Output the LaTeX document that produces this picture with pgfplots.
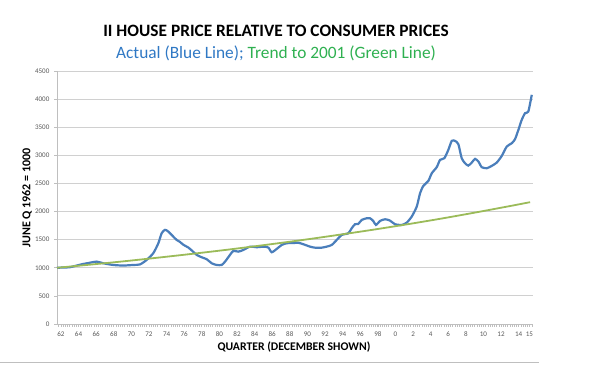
\documentclass[border=0pt]{standalone}
\usepackage{pgfplots}
\pgfplotsset{compat=1.18}
\usepackage{fontspec}
\setmainfont{Carlito}
\definecolor{blueline}{HTML}{4A7EBB}
\definecolor{greenline}{HTML}{9BBB59}
\definecolor{bluetext}{HTML}{2F78C4}
\definecolor{greentext}{HTML}{2EB050}
\definecolor{gridgray}{HTML}{D0D0D0}
\definecolor{axisgray}{HTML}{BFBFBF}
\definecolor{ticktext}{HTML}{595959}
\begin{document}
\begin{tikzpicture}
\useasboundingbox (0,0) rectangle (601*0.75pt,380*0.75pt);
\node[font=\bfseries\fontsize{13}{15}\selectfont] at (276*0.75pt,349*0.75pt) {II HOUSE PRICE RELATIVE TO CONSUMER PRICES};
\node[font=\fontsize{13}{15}\selectfont] at (276*0.75pt,327*0.75pt) {\textcolor{bluetext}{Actual (Blue Line);} \textcolor{greentext}{Trend to 2001 (Green Line)}};
\node[font=\bfseries\fontsize{9}{11}\selectfont, rotate=90] at (27*0.75pt,182*0.75pt) {JUNE Q 1962 = 1000};
\node[font=\bfseries\fontsize{8.8}{10}\selectfont] at (294*0.75pt,33*0.75pt) {QUARTER (DECEMBER SHOWN)};
\draw[axisgray, line width=0.6pt] (0,18*0.75pt) -- (539*0.75pt,18*0.75pt);
\begin{axis}[
  at={(57*0.75pt,56*0.75pt)}, anchor=south west,
  scale only axis, width=356.8pt, height=189.75pt,
  xmin=1962.3, xmax=2016.35, ymin=0, ymax=4500,
  axis x line*=bottom, axis y line*=left,
  axis line style={axisgray, line width=0.6pt},
  ytick={0,500,...,4500},
  ymajorgrids, grid style={gridgray, line width=0.6pt},
  /pgf/number format/assume math mode=true,
  /pgf/number format/set thousands separator={},
  yticklabel style={font=\fontsize{5.3}{6}\selectfont, text=ticktext},
  xticklabel style={font=\fontsize{5.3}{6}\selectfont, text=ticktext},
  tick align=outside,
  major tick length=2.2pt, minor tick length=2.2pt,
  every tick/.style={axisgray, line width=0.5pt},
  xtick={1962.75,1964.75,...,2014.75},
  xticklabels={62,64,66,68,70,72,74,76,78,80,82,84,86,88,90,92,94,96,98,0,2,4,6,8,10,12,14},
  minor xtick={1962.5,1962.75,...,2016.25},
  extra x ticks={2015.97},
  extra x tick labels={15},
  extra x tick style={grid=none},
  clip=false,
]
\addplot[blueline, line width=1.65pt, smooth, tension=0.4] coordinates {
(1962.30,1000) (1963.0,1005) (1963.77,1010) (1965.10,1062) (1966.05,1090)
(1966.81,1110) (1967.56,1080) (1968.69,1050) (1969.83,1040) (1970.97,1050)
(1971.73,1060) (1972.49,1140) (1973.24,1260) (1973.81,1435) (1974.19,1615)
(1974.57,1675) (1974.94,1645) (1975.51,1555) (1975.90,1495) (1976.27,1460)
(1976.65,1410) (1977.22,1360) (1977.67,1300) (1978.18,1228) (1978.74,1187)
(1979.31,1152) (1979.88,1080) (1980.44,1050) (1981.01,1050) (1981.39,1109)
(1981.95,1228) (1982.33,1300) (1982.90,1287) (1983.47,1317) (1984.23,1376)
(1984.99,1365) (1985.74,1376) (1986.31,1360) (1986.69,1276) (1987.26,1335)
(1987.83,1406) (1988.40,1436) (1989.15,1440) (1989.72,1445) (1990.28,1419)
(1991.05,1376) (1991.61,1358) (1992.38,1358) (1992.94,1376) (1993.51,1406)
(1994.08,1495) (1994.65,1584) (1995.40,1614) (1995.78,1703) (1996.16,1775)
(1996.53,1780) (1996.92,1851) (1997.49,1881) (1997.86,1881) (1998.23,1833)
(1998.54,1762) (1999.00,1833) (1999.57,1863) (2000.14,1839) (2000.70,1775)
(2001.47,1762) (2002.03,1803) (2002.60,1910) (2003.17,2088) (2003.55,2326)
(2003.92,2456) (2004.49,2545) (2004.88,2682) (2005.44,2789) (2005.82,2919)
(2006.31,2949) (2006.76,3097) (2007.15,3257) (2007.52,3257) (2007.90,3199)
(2008.28,2949) (2008.66,2860) (2009.03,2818) (2009.42,2871) (2009.80,2937)
(2010.18,2889) (2010.56,2789) (2011.13,2771) (2011.69,2812) (2012.26,2871)
(2012.83,2990) (2013.40,3156) (2013.97,3216) (2014.34,3288) (2014.72,3453)
(2015.10,3631) (2015.48,3750) (2015.85,3779) (2016.24,4076)
};
\addplot[greenline, line width=1.35pt, smooth] coordinates {
(1962.30,1000) (1966,1055) (1970,1117) (1974,1184) (1978,1254) (1982,1328)
(1986,1407) (1990,1490) (1994,1579) (1998,1672) (2002,1771) (2006,1876)
(2010,1988) (2014,2105) (2016.05,2167)
};
\end{axis}
\end{tikzpicture}
\end{document}
